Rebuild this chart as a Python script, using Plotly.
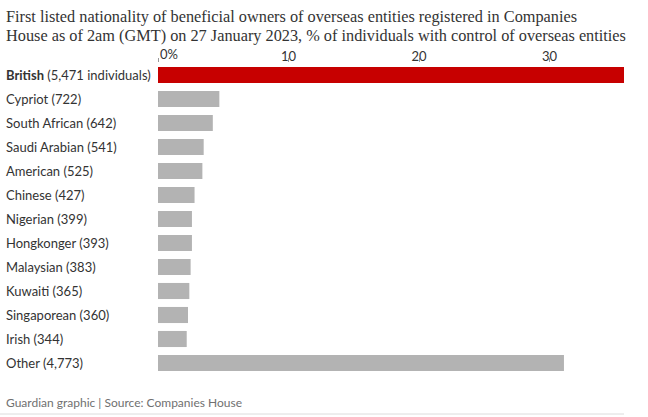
import plotly.graph_objects as go

# ── DATA ─────────────────────────────
NATIONALITIES = ["British", "Cypriot", "South African", "Saudi Arabian", "American",
                 "Chinese", "Nigerian", "Hongkonger", "Malaysian", "Kuwaiti",
                 "Singaporean", "Irish", "Other"]
COUNTS = ["5,471 individuals", "722", "642", "541", "525", "427", "399", "393",
          "383", "365", "360", "344", "4,773"]
SHARE = [35.7, 4.7, 4.2, 3.5, 3.4, 2.8, 2.6, 2.6, 2.5, 2.4, 2.3, 2.2, 31.1]
TICKS = [0, 10, 20, 30]
TICK_TEXT = ["", "10", "20", "30"]
TITLE_LINES = [
    "First listed nationality of beneficial owners of overseas entities registered in Companies",
    "House as of 2am (GMT) on 27 January 2023, % of individuals with control of overseas entities",
]
# ─────────────────────────────────────

RED = "#c70000"
GREY = "#b3b3b3"
TEXT = "#333333"
SANS = "Lato, Roboto, sans-serif"
SERIF = "Liberation Serif, DejaVu Serif, serif"

W, H = 648, 417
L, R, T, B = 158, 24, 63, 42
pw = W - L - R
ph = H - T - B


def px_x(x):
    # page pixel -> paper x
    return (x - L) / pw


def px_y(y):
    # page pixel -> paper y
    return 1 + (T - y) / ph


colors = [RED if n == "British" else GREY for n in NATIONALITIES]

fig = go.Figure(go.Bar(
    x=SHARE, y=NATIONALITIES, orientation="h",
    marker=dict(color=colors, line=dict(width=0)),
    hoverinfo="skip",
))

# title, two lines
for i, line in enumerate(TITLE_LINES):
    fig.add_annotation(
        x=px_x(4), xref="paper", y=px_y(16 + 19 * i), yref="paper",
        text=line, showarrow=False, xanchor="left", yanchor="middle",
        font=dict(family=SERIF, size=16.3, color=TEXT),
    )

# left-aligned category labels
for name, cnt in zip(NATIONALITIES, COUNTS):
    label = f"<b>{name}</b> ({cnt})" if name == "British" else f"{name} ({cnt})"
    fig.add_annotation(
        x=px_x(4), xref="paper", y=name, yref="y",
        text=label, showarrow=False, xanchor="left", yanchor="middle",
        font=dict(family=SANS, size=13, color=TEXT),
    )

# "0%" label sits to the right of its tick
fig.add_annotation(
    x=0, xref="x", y=px_y(54), yref="paper",
    text="0%", showarrow=False, xanchor="left", yanchor="middle",
    font=dict(family=SANS, size=13, color=TEXT),
)

# footer
fig.add_annotation(
    x=px_x(4), xref="paper", y=px_y(403), yref="paper",
    text="Guardian graphic | Source: Companies House", showarrow=False,
    xanchor="left", yanchor="middle",
    font=dict(family=SANS, size=12, color="#707070"),
)
fig.add_shape(
    type="line", xref="paper", yref="paper",
    x0=px_x(0), x1=px_x(624), y0=px_y(414), y1=px_y(414),
    line=dict(color="#dcdcdc", width=1),
)

fig.update_layout(
    width=W, height=H,
    margin=dict(l=L, r=R, t=T, b=B),
    paper_bgcolor="white", plot_bgcolor="white",
    showlegend=False, bargap=0.33,
    xaxis=dict(
        side="top", range=[0, max(SHARE)], fixedrange=True,
        tickvals=TICKS, ticktext=TICK_TEXT,
        ticks="outside", ticklen=4, tickcolor="#999999", tickwidth=1,
        ticklabelstandoff=-8,
        showgrid=True, gridcolor="white", gridwidth=1,
        zeroline=False, showline=False, layer="above traces",
        tickfont=dict(family=SANS, size=13, color=TEXT),
    ),
    yaxis=dict(
        autorange="reversed", showticklabels=False, showgrid=False,
        zeroline=False, fixedrange=True,
    ),
)

# page body has a default margin; drop it so the chart sits at the top-left
fig.write_html("out.html", config={"displayModeBar": False},
               post_script="document.body.style.margin='0';")
